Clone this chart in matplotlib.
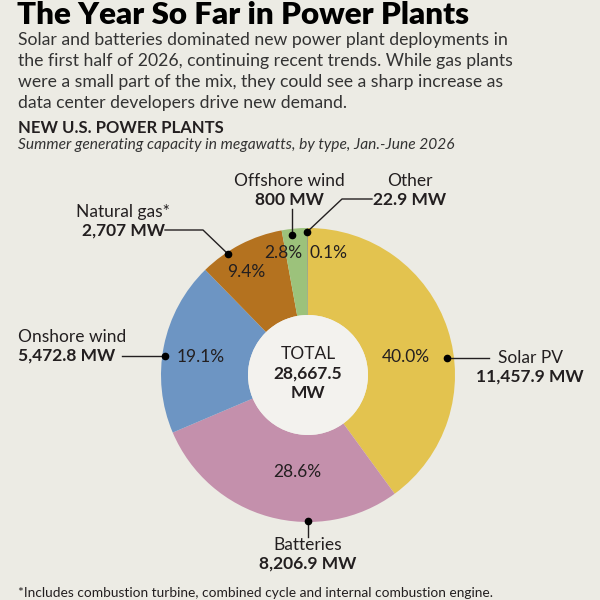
import matplotlib.pyplot as plt
from matplotlib.patches import Circle

# data (MW, Jan.-June 2026)
types = ["Solar PV", "Batteries", "Onshore wind", "Natural gas*", "Offshore wind", "Other"]
capacity_mw = [11457.9, 8206.9, 5472.8, 2707, 800, 22.9]
colors = ["#E3C34F", "#C490AC", "#6D95C3", "#B4721F", "#9CC27B", "#7E8160"]

title = "The Year So Far in Power Plants"
intro = [
    "Solar and batteries dominated new power plant deployments in",
    "the first half of 2026, continuing recent trends. While gas plants",
    "were a small part of the mix, they could see a sharp increase as",
    "data center developers drive new demand.",
]
chart_head = "NEW U.S. POWER PLANTS"
chart_sub = "Summer generating capacity in megawatts, by type, Jan.-June 2026"
footnote = "*Includes combustion turbine, combined cycle and internal combustion engine."

BG = "#ECEBE4"
HOLE = "#F3F2EE"
INK = "#231F20"
FONT = ["Lato", "DejaVu Sans"]
H = 600


def Y(py):
    # work in pixel coordinates measured from the top of the picture
    return H - py


# label layout, same order as types: (name x, name y, ha), pct position, leader line
name_pos = [(530, 358, "center"), (308, 545, "center"), (18, 337, "left"),
            (123, 212, "center"), (289, 181, "center"), (410, 181, "center")]
pct_pos = [(406, 357), (297, 472), (201, 357), (246, 272), (283, 253), (329, 253)]
leaders = [
    [(489, 358), (447, 358)],
    [(308, 537), (308, 521)],
    [(122, 356), (165, 356)],
    [(165, 230), (203, 230), (228, 254)],
    [(292, 209), (292, 235)],
    [(372, 199), (342, 199), (307, 232)],
]

fig = plt.figure(figsize=(6, 6), dpi=100, facecolor=BG)
ax = fig.add_axes([0, 0, 1, 1])
ax.set_facecolor(BG)

cx, cy, R, r = 308, 375, 147, 60
ax.pie(capacity_mw, colors=colors, startangle=90, counterclock=False,
       center=(cx, Y(cy)), radius=R,
       wedgeprops=dict(width=R - r, linewidth=0), frame=True)
ax.add_patch(Circle((cx, Y(cy)), r, color=HOLE, lw=0))
ax.set_xlim(0, 600)
ax.set_ylim(0, 600)
ax.set_aspect("equal")
ax.axis("off")

total = sum(capacity_mw)
for i, (name, v) in enumerate(zip(types, capacity_mw)):
    nx, ny, ha = name_pos[i]
    ax.text(nx, Y(ny), name, ha=ha, va="center", fontsize=12.5, color=INK, family=FONT)
    ax.text(nx, Y(ny + 19), f"{v:,g} MW", ha=ha, va="center", fontsize=12.5,
            fontweight="bold", color=INK, family=FONT)
    px, py = pct_pos[i]
    ax.text(px, Y(py), f"{v / total * 100:.1f}%", ha="center", va="center",
            fontsize=12.5, color=INK, family=FONT)
    pts = leaders[i]
    ax.plot([p[0] for p in pts], [Y(p[1]) for p in pts], color=INK, lw=1)
    ax.plot(pts[-1][0], Y(pts[-1][1]), "o", color="black", ms=4.5)

ax.text(cx, Y(354), "TOTAL", ha="center", va="center", fontsize=12.5, color=INK, family=FONT)
ax.text(cx, Y(374), f"{total:,g}", ha="center", va="center", fontsize=12.5,
        fontweight="bold", color=INK, family=FONT)
ax.text(cx, Y(393), "MW", ha="center", va="center", fontsize=12.5,
        fontweight="bold", color=INK, family=FONT)

# headline block
ax.text(17, Y(24), title, ha="left", va="baseline", fontsize=22.6, fontweight="heavy",
        color="black", family=FONT)
for k, line in enumerate(intro):
    ax.text(18, Y(40 + 21 * k), line, ha="left", va="center", fontsize=12.7,
            color="#333333", family=FONT)
ax.text(18, Y(128), chart_head, ha="left", va="center", fontsize=12,
        fontweight="bold", color=INK, family=FONT)
ax.text(18, Y(145), chart_sub, ha="left", va="center", fontsize=11.2,
        style="italic", color="#333333", family=FONT)
ax.text(18, Y(593), footnote, ha="left", va="center", fontsize=9.9,
        color=INK, family=FONT)

fig.savefig("out.png", dpi=100, facecolor=BG)
